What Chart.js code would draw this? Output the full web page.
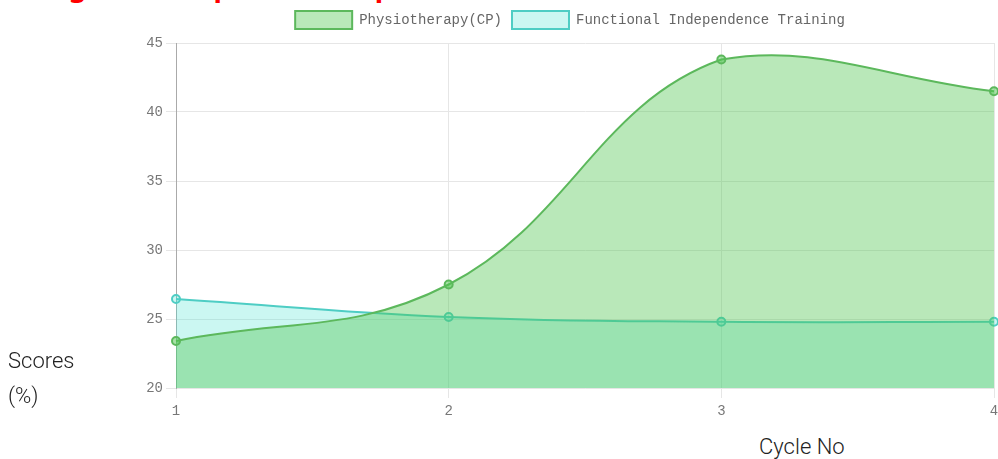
<!DOCTYPE html>
<html>
<head>
<meta charset="utf-8">
<script src="https://cdn.jsdelivr.net/npm/chart.js@4/dist/chart.umd.min.js"></script>
<style>
  html, body { margin: 0; padding: 0; background: #fff; overflow: hidden; }
  body { width: 998px; height: 459px; position: relative; font-family: Roboto, 'Noto Sans', sans-serif; }
  .title { position: absolute; left: 22px; top: -34px; color: #f00; font: bold 28px 'Noto Sans', sans-serif; line-height: 38px; white-space: nowrap; }
  .wrap { position: absolute; left: 0; top: 0; width: 1010px; height: 424px; }
  .ylab { position: absolute; left: 8px; top: 343px; font: 300 22px Roboto, sans-serif; color: #222; line-height: 35px; }
  .xlab { position: absolute; left: 759px; top: 434px; font: 300 22px Roboto, sans-serif; color: #222; }
</style>
</head>
<body>
<div class="title">Progress Comparison Graph</div>
<div class="wrap"><canvas id="chart"></canvas></div>
<div class="ylab">Scores<br>(%)</div>
<div class="xlab">Cycle No</div>
<script>
  // Chart data
  const cycles = ['1', '2', '3', '4'];
  const physioScores = [23.4, 27.5, 43.8, 41.5];
  const fitScores = [26.45, 25.15, 24.8, 24.8];
  const yTicks = [20, 25, 30, 35, 40, 45];

  const GREEN = '#5cb85c';
  const TEAL = '#4ecdc4';
  const GRID = '#e6e6e6';
  const monoFont = { family: "'Liberation Mono', 'DejaVu Sans Mono', monospace", size: 14 };

  // a little extra room under the legend
  const legendGap = {
    id: 'legendGap',
    beforeInit(chart) {
      const fit = chart.legend.fit;
      chart.legend.fit = function () {
        fit.bind(chart.legend)();
        this.height += 4;
      };
    },
  };

  new Chart(document.getElementById('chart'), {
    type: 'line',
    data: {
      labels: cycles,
      datasets: [
        {
          label: 'Physiotherapy(CP)',
          data: physioScores,
          borderColor: GREEN,
          backgroundColor: 'rgba(80,197,80,0.4)',
          borderWidth: 2,
          pointRadius: 4,
          pointBorderWidth: 2,
          pointBackgroundColor: 'rgba(80,197,80,0.5)',
          fill: 'origin',
          tension: 0.4,
        },
        {
          label: 'Functional Independence Training',
          data: fitScores,
          borderColor: TEAL,
          backgroundColor: 'rgba(64,224,208,0.27)',
          borderWidth: 2,
          pointRadius: 4,
          pointBorderWidth: 2,
          pointBackgroundColor: 'rgba(64,224,208,0.27)',
          fill: 'origin',
          tension: 0.4,
        },
      ],
    },
    options: {
      responsive: true,
      maintainAspectRatio: false,
      animation: false,
      layout: { padding: { top: 1, right: 16, left: 146, bottom: 0 } },
      plugins: {
        legend: {
          display: true,
          position: 'top',
          labels: { boxWidth: 57, boxHeight: 18, padding: 10, color: '#666', font: monoFont },
        },
        tooltip: { enabled: false },
      },
      scales: {
        x: {
          grid: { color: GRID, tickLength: 10, tickColor: GRID },
          border: { color: GRID },
          ticks: { color: '#777', font: monoFont, padding: 5 },
          afterFit: (s) => { s.height = 36; },
        },
        y: {
          min: 20,
          max: 45,
          afterBuildTicks: (s) => { s.ticks = yTicks.map(v => ({ value: v })); },
          grid: { color: GRID, tickLength: 10, tickColor: GRID },
          border: { color: '#aaa' },
          ticks: { color: '#777', font: monoFont, padding: 3 },
          afterFit: (s) => { s.width = 30; },
        },
      },
    },
    plugins: [legendGap],
  });
</script>
</body>
</html>
